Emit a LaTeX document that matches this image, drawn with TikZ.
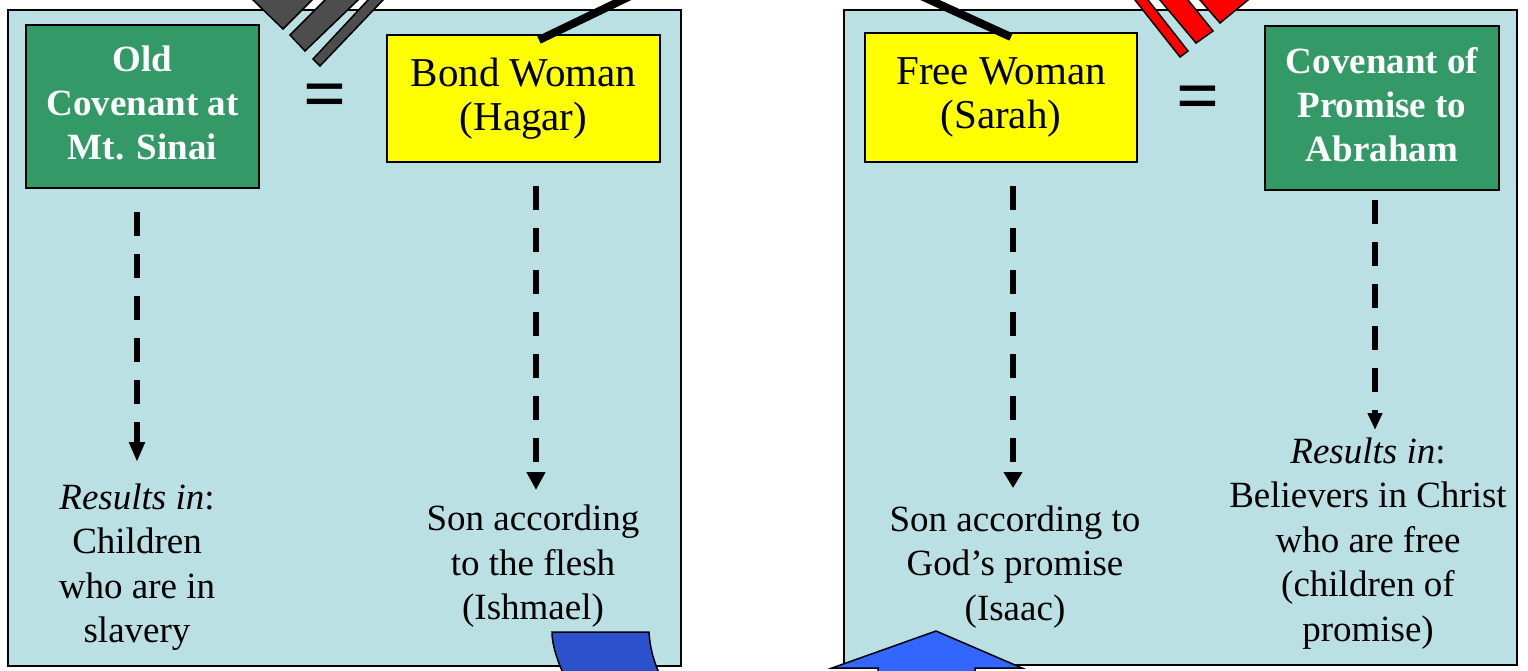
\documentclass[tikz,border=0pt]{standalone}
\usepackage{fontspec}
\setmainfont{Liberation Serif}
\usetikzlibrary{arrows.meta}
\definecolor{panelfill}{RGB}{187,224,227}
\definecolor{covgreen}{RGB}{51,153,102}
\definecolor{stripegray}{RGB}{77,77,77}
\definecolor{darkblue}{RGB}{43,82,204}
\definecolor{brightblue}{RGB}{51,102,255}
\definecolor{boxyellow}{RGB}{255,255,0}
\newcommand{\lowpad}{\rule[-7pt]{0pt}{7pt}}
\tikzset{
  panel/.style={draw=black, line width=2pt, fill=panelfill},
  greenbox/.style={draw=black, line width=2pt, fill=covgreen, text=white, inner sep=4pt,
    font=\bfseries\fontsize{37}{44}\selectfont, align=center},
  yellowbox/.style={draw=black, line width=1.5pt, fill=boxyellow, inner sep=4pt,
    font=\fontsize{41}{44}\selectfont, align=center},
  bodytext/.style={font=\fontsize{37}{44.5}\selectfont, align=center, inner sep=0pt},
  eqsign/.style={font=\bfseries\fontsize{76}{76}\selectfont, inner sep=0pt},
  dasharrow/.style={line width=6pt, dash pattern=on 24pt off 18pt},
  stripe/.style={draw=black, line width=1.5pt, line join=miter},
  bluepiece/.style={draw=black, line width=1.5pt},
  blackbar/.style={line width=8pt, line cap=butt}
}
\begin{document}
\begin{tikzpicture}[x=1pt,y=-1pt]
\useasboundingbox (0,0) rectangle (1528,671);
\clip (0,0) rectangle (1528,671);
\fill[white] (0,0) rectangle (1528,671);

% panels
\path[panel] (8,10) rectangle (681,666);
\path[panel] (844,10) rectangle (1517,665);

% boxes
\node[greenbox, minimum width=233pt, minimum height=163pt] (oldcov) at (142.5,106.5)
  {Old\\Covenant at\\Mt. Sinai\lowpad};
\node[yellowbox, minimum width=273pt, minimum height=127pt] (bond) at (523.5,98.5)
  {Bond Woman\\(Hagar)};
\node[yellowbox, minimum width=272pt, minimum height=129pt] (free) at (1001,97.5)
  {Free Woman\\(Sarah)};
\node[greenbox, minimum width=234pt, minimum height=164pt] (promcov) at (1382,108)
  {Covenant of\\Promise to\\Abraham\lowpad};

\node[eqsign] (eqleft) at (325,102) {=};
\node[eqsign] (eqright) at (1198,104) {=};

% result texts
\node[bodytext] (res1) at (137,567) {\textit{Results in}:\\Children\\who are in\\slavery};
\node[bodytext] (res2) at (533,566.5) {Son according\\to the flesh\\(Ishmael)};
\node[bodytext] (res3) at (1015,567) {Son according to\\God’s promise\\(Isaac)};
\node[bodytext] (res4) at (1368,543.5) {\textit{Results in}:\\Believers in Christ\\who are free\\(children of\\promise)};

% dashed arrows
\coordinate (a1s) at (137,212); \coordinate (a1e) at (137,462);
\coordinate (a2s) at (536,186); \coordinate (a2e) at (536,490);
\coordinate (a3s) at (1013,186); \coordinate (a3e) at (1013,488);
\coordinate (a4s) at (1375,200); \coordinate (a4e) at (1375,430);
\draw[dasharrow, -{Triangle[width=15pt,length=20pt]}] (a1s) -- (a1e);
\draw[dasharrow, -{Triangle[width=18pt,length=18pt]}] (a2s) -- (a2e);
\draw[dasharrow, -{Triangle[width=18pt,length=16pt]}] (a3s) -- (a3e);
\draw[dasharrow, -{Triangle[width=14pt,length=17pt]}] (a4s) -- (a4e);

% gray stripes (top left)
\draw[stripe, fill=stripegray] (242.7,-10) -- (283,29) -- (322,-10) -- cycle;
\draw[stripe, fill=stripegray] (335,-10) -- (290,35) -- (305,51) -- (368.4,-10) -- cycle;
\draw[stripe, fill=stripegray] (377.3,-10) -- (313,59) -- (320,66) -- (392.5,-10) -- cycle;

% red stripes (top right)
\draw[stripe, fill=red] (1191.3,-10) -- (1220,23) -- (1260.2,-10) -- cycle;
\draw[stripe, fill=red] (1151.6,-10) -- (1196,43) -- (1213,31) -- (1180,-10) -- cycle;
\draw[stripe, fill=red] (1127.1,-10) -- (1180,57) -- (1188,51) -- (1140.2,-10) -- cycle;

% black bars
\coordinate (barL) at (539,40);
\coordinate (barR) at (1011,37);
\draw[blackbar] (barL) -- (643,-10);
\draw[blackbar] (barR) -- (908,-10);

% blue pieces (bottom)
\draw[bluepiece, fill=darkblue] (552,632) -- (649,632)
  .. controls (650,648) and (653,660) .. (662,680)
  -- (566,680) .. controls (557,660) and (552,645) .. (552,632) -- cycle;
\draw[bluepiece, fill=brightblue] (878,680) -- (878,668) -- (832,668) -- (936,631)
  -- (1022,668) -- (975,668) -- (975,680) -- cycle;
\end{tikzpicture}
\end{document}
